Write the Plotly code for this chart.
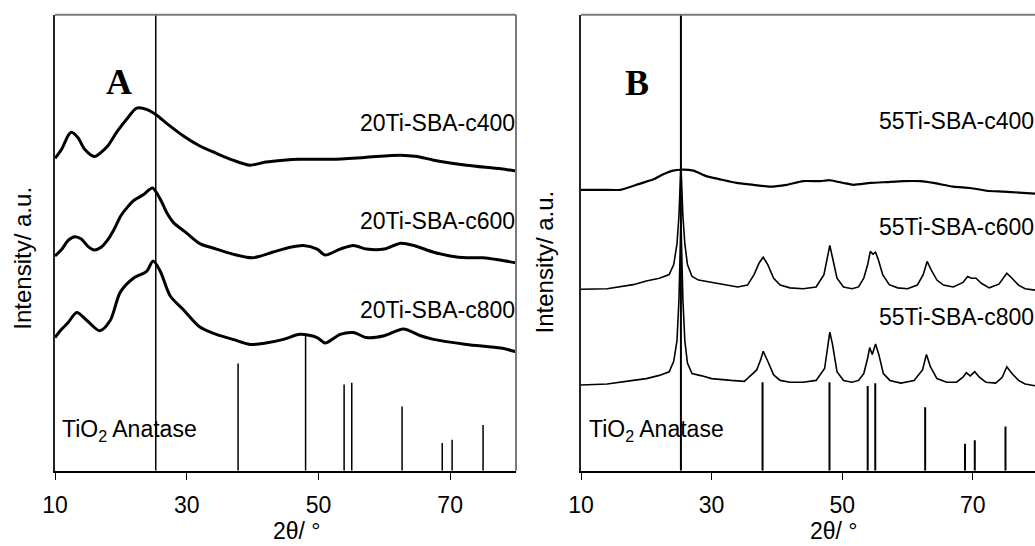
import plotly.graph_objects as go

W, H = 1035, 546

# ---------------- data ----------------
# Panel A (20Ti-SBA)
a400_x = [10, 11, 12, 12.5, 13.5, 14.5, 16, 17, 18, 19.5, 21, 22.4, 24, 25.4, 27, 29.5, 32, 34.5, 37, 39.6,
          42, 44.7, 47, 52, 57, 62.5, 65, 67.5, 72.5, 77.7, 80]
a400_y = [68.5, 70.5, 73.5, 74.2, 73.0, 70.5, 68.9, 69.8, 71.2, 74.5, 77.3, 79.5, 79.2, 78.0, 76.1, 73.4, 71.2, 69.6, 68.1, 67.0,
          67.7, 68.1, 68.3, 68.3, 68.7, 69.2, 68.9, 68.1, 67.0, 66.2, 65.7]

a600_x = [10, 11, 12, 13, 14, 15, 16, 17, 18, 19, 20, 21, 22, 23.4, 24.8, 26, 27, 28, 30, 32, 34.5, 37, 40, 43,
          45.7, 47.7, 49.8, 51, 53.3, 55.3, 57.3, 60, 62.5, 64.5, 67.5, 70, 72.5, 75, 77.5, 80]
a600_y = [47.1, 48.5, 50.5, 51.3, 50.8, 49.2, 48.4, 49.0, 50.6, 53.0, 55.9, 57.8, 59.3, 60.5, 62.0, 59.5, 56.5, 54.4, 52.1, 49.8, 48.6, 47.5, 46.7, 47.9,
          49.0, 49.4, 48.6, 47.3, 48.6, 49.4, 48.6, 48.6, 49.9, 49.4, 47.9, 47.1, 46.7, 46.7, 46.2, 45.6]

a800_x = [10, 11, 12, 13.3, 14.8, 16.8, 18.4, 19.9, 21.9, 23.9, 24.9, 26, 27.5, 29.5, 32, 34.5, 37, 39.6, 42, 44.7,
          47.2, 49.8, 51, 53.3, 55.3, 57.3, 60, 62.9, 65.5, 67.5, 72.5, 77.7, 80]
a800_y = [29.2, 31.0, 32.5, 34.7, 33.0, 30.7, 33.0, 39.1, 42.2, 43.7, 46.0, 43.7, 38.3, 35.3, 31.5, 29.9, 28.8, 27.7, 28.0, 28.8,
          29.9, 29.2, 28.0, 29.9, 30.3, 29.2, 29.6, 31.1, 29.6, 28.8, 27.7, 26.9, 26.1]

# Panel B (55Ti-SBA)
b400_x = [10, 13.4, 16, 18.5, 21.1, 22.6, 24.1, 25.3, 27.2, 29.2, 31.3, 33.8, 36.4, 38.9, 41.5, 44, 46.6, 48.1,
          50.2, 51.7, 54.3, 56.8, 59.4, 61.9, 64, 67, 69.6, 72.1, 74.7, 77, 80]
b400_y = [61.6, 61.6, 61.6, 62.7, 63.9, 65.0, 65.8, 66.0, 65.8, 64.6, 63.9, 63.1, 62.7, 62.3, 62.7, 63.5, 63.5, 63.7,
          63.1, 62.7, 63.1, 63.3, 63.5, 63.5, 63.1, 62.3, 62.0, 61.4, 61.2, 61.0, 60.7]

b600_x = [10, 14, 18, 20, 22, 23.5, 24.2, 24.7, 25.0, 25.3, 25.6, 25.9, 26.3, 27, 28, 30, 32, 34, 35.5, 36.5, 37.3,
          37.9, 38.6, 39.5, 40.5, 42, 44, 46, 47.2, 47.8, 48.1, 48.5, 49.2, 50.2, 51.5, 52.5, 53.3, 53.9, 54.3,
          54.7, 55.1, 55.5, 56.2, 57.2, 58.5, 60, 61.5, 62.4, 63, 63.6, 64.5, 65.5, 67, 68.5, 69.2, 69.8, 70.5,
          71.3, 72.5, 74, 75.2, 76, 77, 78, 80]
b600_y = [39.8, 39.9, 40.8, 41.6, 42.2, 43.0, 45.2, 49.8, 55.9, 67.3, 55.9, 49.8, 45.2, 42.6, 41.8, 41.3, 40.8, 40.3, 40.7, 43.0, 45.6,
          46.8, 45.2, 42.2, 40.7, 40.1, 39.9, 40.3, 43.0, 47.1, 49.4, 46.8, 42.2, 40.3, 39.9, 40.3, 42.2, 45.2, 48.1,
          47.5, 47.9, 46.4, 43.0, 40.8, 40.1, 39.9, 40.7, 43.0, 45.9, 44.1, 41.8, 40.7, 40.3, 41.3, 42.6, 42.2, 42.2,
          41.1, 40.1, 40.9, 43.3, 42.2, 40.7, 39.9, 39.5]

b800_x = [10, 14, 18, 20, 22, 23.5, 24.2, 24.7, 25.0, 25.3, 25.6, 25.9, 26.3, 27, 28.5, 30, 33, 35, 36.3, 36.9,
          37.5, 37.9, 38.6, 39.5, 40.5, 42, 44, 46, 47.3, 47.8, 48.1, 48.5, 49.2, 50.2, 51.5, 52.5, 53.3, 53.9,
          54.2, 54.6, 55.1, 55.6, 56.3, 57.3, 59, 61, 62.3, 62.9, 63.5, 64.5, 66, 67.5, 68.5, 69, 69.6, 70.3,
          71, 72, 73.5, 74.5, 75.2, 76, 77, 78, 80]
b800_y = [18.8, 19.0, 19.8, 20.2, 20.9, 21.7, 24.0, 28.5, 37.6, 55.0, 37.6, 28.5, 23.6, 21.3, 20.8, 20.2, 19.8, 19.6, 21.3, 22.1,
          24.3, 26.2, 24.0, 21.0, 19.8, 19.4, 19.4, 19.8, 22.4, 27.8, 30.4, 27.8, 21.7, 19.8, 19.4, 19.8, 21.3, 24.7,
          27.0, 25.5, 27.8, 25.5, 21.3, 19.8, 19.2, 19.8, 22.1, 25.5, 22.8, 20.2, 19.4, 19.4, 20.5, 21.5, 20.8, 21.7,
          20.5, 19.4, 19.2, 20.5, 22.8, 21.3, 19.8, 19.0, 18.5]

# TiO2 anatase reference lines
anatase_2theta = [25.3, 37.8, 48.05, 53.9, 55.06, 62.7, 68.8, 70.3, 75.0]
anatase_A = [100, 23.5, 29.6, 18.9, 19.3, 14.1, 6.1, 6.8, 10.0]
anatase_B = [100, 19.4, 19.4, 18.6, 19.2, 13.9, 5.9, 6.7, 9.7]

labels_A = ["20Ti-SBA-c400", "20Ti-SBA-c600", "20Ti-SBA-c800"]
labels_B = ["55Ti-SBA-c400", "55Ti-SBA-c600", "55Ti-SBA-c800"]
x_ticks = [10, 30, 50, 70]

# ---------------- figure ----------------
FONT = "Liberation Sans, Arial, sans-serif"


def px_x(p):
    return p / W


def px_y(p):
    return 1 - p / H


def sticks(xs, hs):
    sx, sy = [], []
    for x, h in zip(xs, hs):
        sx += [x, x, None]
        sy += [0, h, None]
    return sx, sy


fig = go.Figure()

for xs, ys in [(a400_x, a400_y), (a600_x, a600_y), (a800_x, a800_y)]:
    fig.add_trace(go.Scatter(x=xs, y=ys, mode="lines",
                             line=dict(color="black", width=3, shape="spline", smoothing=0.8),
                             xaxis="x", yaxis="y", showlegend=False, hoverinfo="skip"))
sx, sy = sticks(anatase_2theta, anatase_A)
fig.add_trace(go.Scatter(x=sx, y=sy, mode="lines", line=dict(color="black", width=1.5),
                         xaxis="x", yaxis="y", showlegend=False, hoverinfo="skip"))

fig.add_trace(go.Scatter(x=b400_x, y=b400_y, mode="lines",
                         line=dict(color="black", width=2.2, shape="spline", smoothing=0.6),
                         xaxis="x2", yaxis="y2", showlegend=False, hoverinfo="skip"))
for xs, ys in [(b600_x, b600_y), (b800_x, b800_y)]:
    fig.add_trace(go.Scatter(x=xs, y=ys, mode="lines", line=dict(color="black", width=1.6),
                             xaxis="x2", yaxis="y2", showlegend=False, hoverinfo="skip"))
sx, sy = sticks(anatase_2theta, anatase_B)
fig.add_trace(go.Scatter(x=sx, y=sy, mode="lines", line=dict(color="black", width=2),
                         xaxis="x2", yaxis="y2", showlegend=False, hoverinfo="skip"))

ydom = [75.3 / H, 1 - 14.7 / H]
xa_dom = [55 / W, 516 / W]
xb_dom = [581 / W, 1.0]

common_x = dict(tickmode="array", tickvals=x_ticks, ticks="outside", ticklen=8, tickwidth=1,
                tickcolor="black", showline=True, linecolor="black", linewidth=1.5, automargin=False,
                ticklabelstandoff=5,
                showgrid=False, zeroline=False, tickfont=dict(family=FONT, size=23, color="black"))
common_y = dict(range=[0, 100], showticklabels=False, ticks="", showline=True, linecolor="#222",
                linewidth=1.5, showgrid=False, zeroline=False, domain=ydom, automargin=False)

fig.update_layout(
    template="none",
    width=W, height=H, margin=dict(l=0, r=0, t=0, b=0, pad=0, autoexpand=False),
    paper_bgcolor="white", plot_bgcolor="white",
    xaxis=dict(domain=xa_dom, range=[10, 80], anchor="y", **common_x),
    yaxis=dict(anchor="x", **common_y),
    xaxis2=dict(domain=xb_dom, range=[10, 79.52], anchor="y2", **common_x),
    yaxis2=dict(anchor="x2", **common_y),
)

# gray top/right frame lines
shapes = []
for x0, x1 in [(55, 516), (581, 1040)]:
    shapes.append(dict(type="line", xref="paper", yref="paper", x0=px_x(x0), x1=px_x(x1),
                       y0=ydom[1], y1=ydom[1], line=dict(color="#7a7a7a", width=2)))
shapes.append(dict(type="line", xref="paper", yref="paper", x0=px_x(516), x1=px_x(516),
                   y0=ydom[0], y1=ydom[1], line=dict(color="#7a7a7a", width=2)))
fig.update_layout(shapes=shapes)

ann = []
# panel letters
ann.append(dict(text="<b>A</b>", x=px_x(103.5), y=px_y(60), xref="paper", yref="paper",
                showarrow=False, font=dict(family="Liberation Serif, Times New Roman, serif", size=36, color="black")))
ann.append(dict(text="<b>B</b>", x=px_x(636.5), y=px_y(61), xref="paper", yref="paper",
                showarrow=False, font=dict(family="Liberation Serif, Times New Roman, serif", size=36, color="black")))
# sample labels
for lab, yy in zip(labels_A, [123, 221, 310]):
    ann.append(dict(text=lab, x=px_x(358), y=px_y(yy), xref="paper", yref="paper", xanchor="left",
                    yanchor="middle", showarrow=False, font=dict(family=FONT, size=23, color="black")))
for lab, yy in zip(labels_B, [121, 227, 317]):
    ann.append(dict(text=lab, x=px_x(877), y=px_y(yy), xref="paper", yref="paper", xanchor="left",
                    yanchor="middle", showarrow=False, font=dict(family=FONT, size=23, color="black")))
# TiO2 anatase labels
for x0 in [60, 587]:
    ann.append(dict(text="TiO<sub>2</sub> Anatase", x=px_x(x0), y=px_y(430), xref="paper", yref="paper",
                    xanchor="left", yanchor="middle", showarrow=False,
                    font=dict(family=FONT, size=23, color="black")))
# axis titles
for xc in [297, 834]:
    ann.append(dict(text="2θ/ °", x=px_x(xc), y=px_y(546), xref="paper", yref="paper",
                    xanchor="center", yanchor="bottom", showarrow=False,
                    font=dict(family=FONT, size=23, color="black")))
for xc, yc in [(21.7, 258), (543.5, 262)]:
    ann.append(dict(text="Intensity/ a.u.", x=px_x(xc), y=px_y(yc), xref="paper", yref="paper",
                    xanchor="center", yanchor="middle", textangle=-90, showarrow=False,
                    font=dict(family=FONT, size=24, color="black")))
fig.update_layout(annotations=ann)

fig.write_html("out.html", config={"displayModeBar": False},
               post_script="document.body.style.margin='0';document.body.style.overflow='hidden';")
